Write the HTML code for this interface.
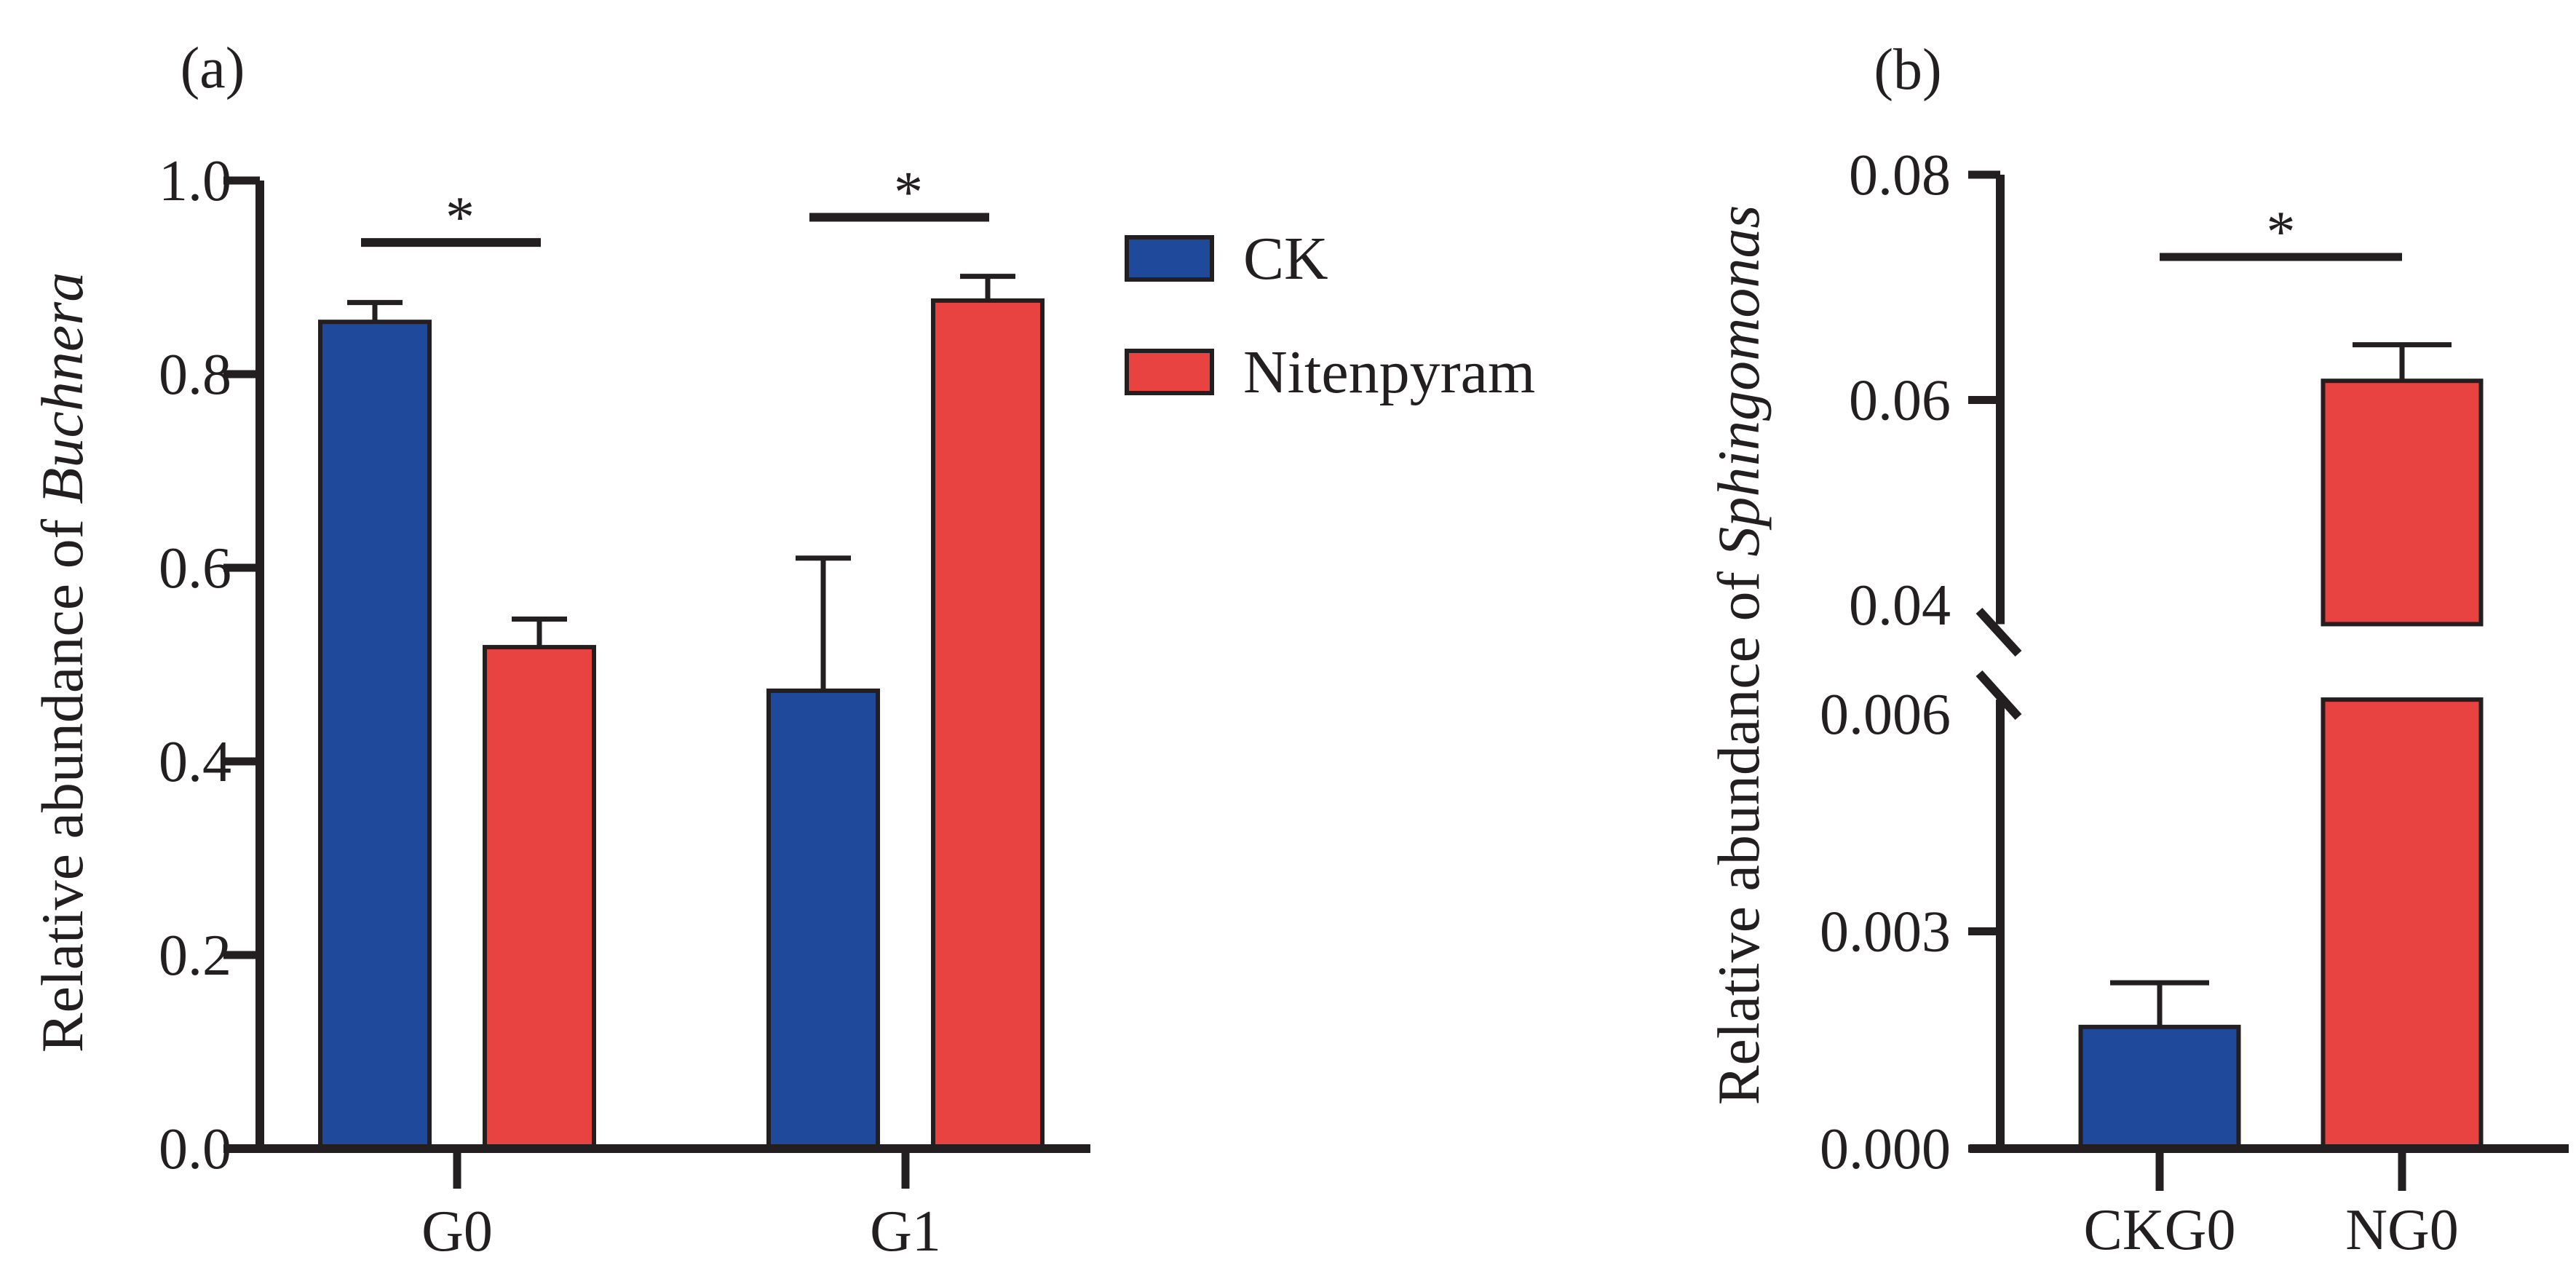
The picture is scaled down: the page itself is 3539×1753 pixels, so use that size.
<!DOCTYPE html>
<html><head><meta charset="utf-8"><style>
html,body{margin:0;padding:0;background:#fff;}
svg{display:block;font-family:"Liberation Serif",serif;}
</style></head><body>
<svg id="chart" width="3539" height="1753" viewBox="0 0 3539 1753" xmlns="http://www.w3.org/2000/svg">
<g id="pa"></g>
<g id="pb"></g>
</svg>
<script>
// Panel (a) data
const aGroups = ["G0", "G1"];
const aSeries = ["CK", "Nitenpyram"];
const aCK = [0.854, 0.473];
const aCKErr = [0.874, 0.610];
const aN = [0.518, 0.876];
const aNErr = [0.547, 0.901];
const aSig = [0.936, 0.962];
const aTicks = [0, 0.2, 0.4, 0.6, 0.8, 1.0];
const aTickLabels = ["0.0", "0.2", "0.4", "0.6", "0.8", "1.0"];
// Panel (b) data
const bCats = ["CKG0", "NG0"];
const bVals = [0.00168, 0.0617];
const bErr = [0.00229, 0.0649];
const bSig = [0.0727];
const bLowTicks = [0, 0.003, 0.006];
const bLowTickLabels = ["0.000", "0.003", "0.006"];
const bHighTicks = [0.04, 0.06, 0.08];
const bHighTickLabels = ["0.04", "0.06", "0.08"];

const NS = "http://www.w3.org/2000/svg";
const INK = "#231f20", BLUE = "#1f4a9c", RED = "#e84341";
function mk(parent, tag, attrs, text) {
  const e = document.createElementNS(NS, tag);
  for (const k in attrs) e.setAttribute(k, attrs[k]);
  if (text !== undefined) e.textContent = text;
  parent.appendChild(e);
  return e;
}
const pa = document.getElementById('pa');
const pb = document.getElementById('pb');

// ---------- Panel a ----------
const ay = v => 1578 - v * 1330;
const axX = 357;
const groupCenter = [628, 1244];
const barW = 150, barOff = 113;
let t = mk(pa, 'text', {x: 292, y: 120, 'font-size': 80, 'text-anchor': 'middle', fill: INK}, '(a)');
 

function drawBar(parent, cx, v, err, color, yfn, name) {
  const b = mk(parent, 'rect', {x: cx - barW / 2, y: yfn(v), width: barW, height: yfn(0) - yfn(v), fill: color, stroke: INK, 'stroke-width': 6});
  
  
  const e = mk(parent, 'path', {d: `M${cx} ${yfn(v)}V${yfn(err)}M${cx - 38} ${yfn(err)}H${cx + 38}`, stroke: INK, 'stroke-width': 7, fill: 'none'});
  
  
}
aGroups.forEach((g, i) => {
  drawBar(pa, groupCenter[i] - barOff, aCK[i], aCKErr[i], BLUE, ay, 'bar-ck-' + g.toLowerCase());
  drawBar(pa, groupCenter[i] + barOff, aN[i], aNErr[i], RED, ay, 'bar-nitenpyram-' + g.toLowerCase());
  const s = mk(pa, 'line', {x1: groupCenter[i] - 132, x2: groupCenter[i] + 115, y1: ay(aSig[i]), y2: ay(aSig[i]), stroke: INK, 'stroke-width': 12});
  
  
  const st = mk(pa, 'text', {x: groupCenter[i] + 4, y: ay(aSig[i]) - 8, 'font-size': 80, 'text-anchor': 'middle', fill: INK}, '*');
  
  
  const tk = mk(pa, 'line', {x1: groupCenter[i], x2: groupCenter[i], y1: 1578, y2: 1633, stroke: INK, 'stroke-width': 11});
  
  
  const tl = mk(pa, 'text', {x: groupCenter[i], y: 1718, 'font-size': 80, 'text-anchor': 'middle', fill: INK}, g);
  
  
});
let ax = mk(pa, 'path', {d: `M${axX} ${ay(1.0)}V${ay(0)}M${axX - 50} ${ay(0)}H1498`, stroke: INK, 'stroke-width': 12, fill: 'none'});
 
aTicks.forEach((v, i) => {
  const l = mk(pa, 'line', {x1: axX - 50, x2: axX, y1: ay(v), y2: ay(v), stroke: INK, 'stroke-width': 11});
  
  
  const tx = mk(pa, 'text', {x: 318, y: ay(v) + 27, 'font-size': 80, 'text-anchor': 'end', fill: INK}, aTickLabels[i]);
  
  
});
let yt = mk(pa, 'text', {x: 0, y: 0, 'font-size': 82, 'text-anchor': 'middle', fill: INK, transform: 'translate(113,910) rotate(-90)'});
 
mk(yt, 'tspan', {}, 'Relative abundance of ');
mk(yt, 'tspan', {'font-style': 'italic'}, 'Buchnera');
// legend
[[BLUE, 326], [RED, 482]].forEach((c, i) => {
  const r = mk(pa, 'rect', {x: 1548, y: c[1], width: 117, height: 58, fill: c[0], stroke: INK, 'stroke-width': 6});
  
  
  const lt = mk(pa, 'text', {x: 1708, y: c[1] + 57, 'font-size': 84, fill: INK}, aSeries[i]);
  
  
});

// ---------- Panel b ----------
const bx = 2748;
function by(v) {
  if (v <= 0.0062) return 1578 - v * (1578 - 981) / 0.006;
  return 859 - (v - 0.04) * (859 - 240) / 0.04;
}
const bCenter = [2967, 3300];
const bBarW = 217;
t = mk(pb, 'text', {x: 2621, y: 122, 'font-size': 80, 'text-anchor': 'middle', fill: INK}, '(b)');
 
bCats.forEach((c, i) => {
  const color = i === 0 ? BLUE : RED;
  const cx = bCenter[i];
  const v = bVals[i];
  if (v <= 0.0062) {
    const r = mk(pb, 'rect', {x: cx - bBarW / 2, y: by(v), width: bBarW, height: by(0) - by(v), fill: color, stroke: INK, 'stroke-width': 6});
    
    
  } else {
    const r1 = mk(pb, 'rect', {x: cx - bBarW / 2, y: by(0.0062), width: bBarW, height: by(0) - by(0.0062), fill: color, stroke: INK, 'stroke-width': 6});
    
    
    const r2 = mk(pb, 'rect', {x: cx - bBarW / 2, y: by(v), width: bBarW, height: by(0.0401) - by(v), fill: color, stroke: INK, 'stroke-width': 6});
    
    
  }
  const e = mk(pb, 'path', {d: `M${cx} ${by(v)}V${by(bErr[i])}M${cx - 68} ${by(bErr[i])}H${cx + 68}`, stroke: INK, 'stroke-width': 7, fill: 'none'});
  
  
  const tk = mk(pb, 'line', {x1: cx, x2: cx, y1: 1578, y2: 1636, stroke: INK, 'stroke-width': 11});
  
  
  const tl = mk(pb, 'text', {x: cx, y: 1716, 'font-size': 80, 'text-anchor': 'middle', fill: INK}, c);
  
  
});
let sl = mk(pb, 'line', {x1: bCenter[0], x2: bCenter[1], y1: by(bSig[0]), y2: by(bSig[0]), stroke: INK, 'stroke-width': 11});
 
let ss = mk(pb, 'text', {x: (bCenter[0] + bCenter[1]) / 2, y: by(bSig[0]) - 8, 'font-size': 80, 'text-anchor': 'middle', fill: INK}, '*');
 
let bax = mk(pb, 'path', {d: `M${bx} ${by(0.08)}V${by(0.0401)}M${bx} ${by(0.0062)}V${by(0)}M2706 ${by(0)}H3529`, stroke: INK, 'stroke-width': 12, fill: 'none'});
 
let brk = mk(pb, 'path', {d: 'M2719 839L2773 898M2719 925L2773 985', stroke: INK, 'stroke-width': 12, fill: 'none'});
 
function bTick(v, lbl, drawTick) {
  if (drawTick) {
    const l = mk(pb, 'line', {x1: bx - 44, x2: bx, y1: by(v), y2: by(v), stroke: INK, 'stroke-width': 11});
    
    
  }
  const tx = mk(pb, 'text', {x: 2680, y: by(v) + 27, 'font-size': 80, 'text-anchor': 'end', fill: INK}, lbl);
  
  
}
bLowTicks.forEach((v, i) => bTick(v, bLowTickLabels[i], i < 2));
bHighTicks.forEach((v, i) => {
  if (i === 0) {
    const tx = mk(pb, 'text', {x: 2680, y: 858, 'font-size': 80, 'text-anchor': 'end', fill: INK}, bHighTickLabels[i]);
    
    
  } else bTick(v, bHighTickLabels[i], true);
});
let byt = mk(pb, 'text', {x: 0, y: 0, 'font-size': 82, 'text-anchor': 'middle', fill: INK, transform: 'translate(2416,900) rotate(-90)'});
 
mk(byt, 'tspan', {}, 'Relative abundance of ');
mk(byt, 'tspan', {'font-style': 'italic'}, 'Sphingomonas');
</script>
</body></html>
